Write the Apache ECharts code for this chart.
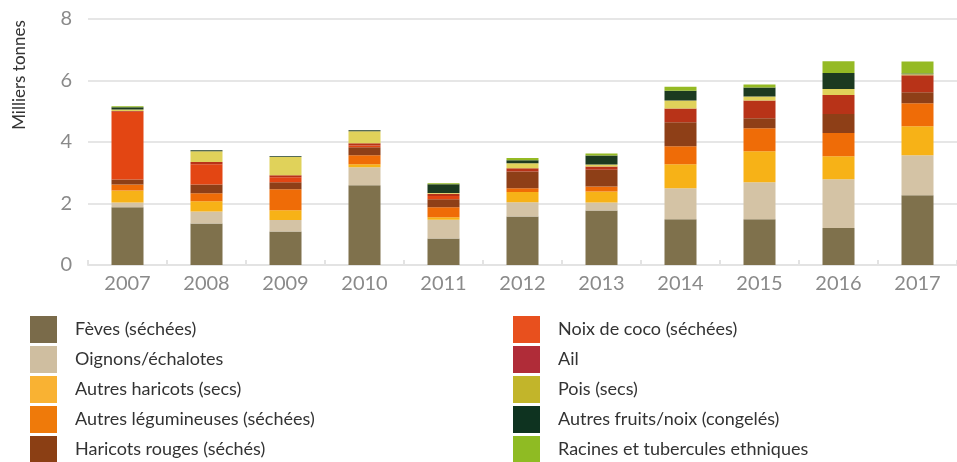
<!DOCTYPE html>
<html>
<head>
<meta charset="utf-8">
<script src="https://cdn.jsdelivr.net/npm/echarts@6/dist/echarts.min.js"></script>
<style>
  html, body { margin: 0; padding: 0; background: #fff; }
  #chart { width: 957px; height: 462px; }
</style>
</head>
<body>
<div id="chart"></div>
<script>
// années
const years = ['2007', '2008', '2009', '2010', '2011', '2012', '2013', '2014', '2015', '2016', '2017'];
const yTicks = [0, 2, 4, 6, 8];

// milliers de tonnes
const feves         = [1.88, 1.35, 1.09, 2.59, 0.86, 1.58, 1.77, 1.49, 1.49, 1.20, 2.27];
const oignons       = [0.15, 0.39, 0.37, 0.59, 0.61, 0.46, 0.26, 1.01, 1.20, 1.59, 1.30];
const autresHaric   = [0.39, 0.33, 0.32, 0.10, 0.08, 0.33, 0.36, 0.78, 1.01, 0.75, 0.94];
const autresLegum   = [0.20, 0.26, 0.68, 0.29, 0.33, 0.13, 0.16, 0.58, 0.75, 0.75, 0.75];
const haricRouges   = [0.16, 0.29, 0.23, 0.26, 0.26, 0.54, 0.55, 0.78, 0.32, 0.62, 0.36];
const noixCoco      = [2.20, 0.66, 0.16, 0.06, 0.10, 0.00, 0.00, 0.00, 0.00, 0.00, 0.00];
const ail           = [0.03, 0.07, 0.07, 0.07, 0.08, 0.11, 0.10, 0.45, 0.58, 0.62, 0.55];
const pois          = [0.05, 0.35, 0.59, 0.39, 0.02, 0.16, 0.07, 0.26, 0.13, 0.19, 0.03];
const autresFruits  = [0.07, 0.03, 0.03, 0.03, 0.29, 0.10, 0.29, 0.32, 0.29, 0.52, 0.03];
const racines       = [0.03, 0.00, 0.00, 0.00, 0.03, 0.07, 0.07, 0.13, 0.10, 0.39, 0.39];

const names = [
  'Fèves (séchées)', 'Oignons/échalotes', 'Autres haricots (secs)', 'Autres légumineuses (séchées)',
  'Haricots rouges (séchés)', 'Noix de coco (séchées)', 'Ail', 'Pois (secs)',
  'Autres fruits/noix (congelés)', 'Racines et tubercules ethniques'
];
const values = [feves, oignons, autresHaric, autresLegum, haricRouges, noixCoco, ail, pois, autresFruits, racines];
const barColors = ['#7f714c', '#d4c3a5', '#f7b217', '#ef6c07', '#8e3f17', '#e34613', '#b83318', '#e0d25a', '#1c3a20', '#95ba24'];
const legendColors = ['#7a6b4a', '#cfbea0', '#f9b233', '#ef7a0a', '#8b3f14', '#e8501e', '#b02c38', '#c2b52a', '#0e3320', '#8fbb23'];

const chart = echarts.init(document.getElementById('chart'));

const series = names.map((n, i) => ({
  name: n,
  type: 'bar',
  stack: 'total',
  barWidth: 32,
  itemStyle: { color: barColors[i] },
  emphasis: { disabled: true },
  data: values[i]
}));

function legendBlock(from, to, left) {
  return {
    orient: 'vertical',
    left: left,
    top: 316,
    height: 200,
    padding: 0,
    itemWidth: 27,
    itemHeight: 27,
    itemGap: 3,
    icon: 'rect',
    selectedMode: false,
    textStyle: { fontFamily: 'Lato', fontSize: 18, color: '#333', padding: [0, 0, 0, 13] },
    data: names.slice(from, to).map((n, k) => ({ name: n, itemStyle: { color: legendColors[from + k] } }))
  };
}

const option = {
  animation: false,
  grid: { left: 88, right: 0, top: 19, bottom: 197 },
  legend: [legendBlock(0, 5, 30), legendBlock(5, 10, 513)],
  xAxis: {
    type: 'category',
    data: years,
    axisLine: { lineStyle: { color: '#e3e3e3', width: 2 } },
    axisTick: { show: true, inside: true, length: 5, lineStyle: { color: '#e3e3e3', width: 2 } },
    axisLabel: { color: '#8a8a8a', fontFamily: 'Lato', fontSize: 20, margin: 9 }
  },
  yAxis: {
    type: 'value',
    min: yTicks[0],
    max: yTicks[yTicks.length - 1],
    interval: 2,
    axisLine: { show: false },
    axisTick: { show: false },
    axisLabel: { color: '#8a8a8a', fontFamily: 'Lato', fontSize: 20, margin: 16 },
    splitLine: { lineStyle: { color: '#e6e6e6', width: 2 } }
  },
  graphic: [{
    type: 'text',
    x: 20,
    y: 75,
    rotation: Math.PI / 2,
    style: {
      text: 'Milliers tonnes',
      fill: '#333',
      font: '17px Lato',
      align: 'center',
      verticalAlign: 'middle'
    }
  }],
  series: series
};

chart.setOption(option);
</script>
</body>
</html>
